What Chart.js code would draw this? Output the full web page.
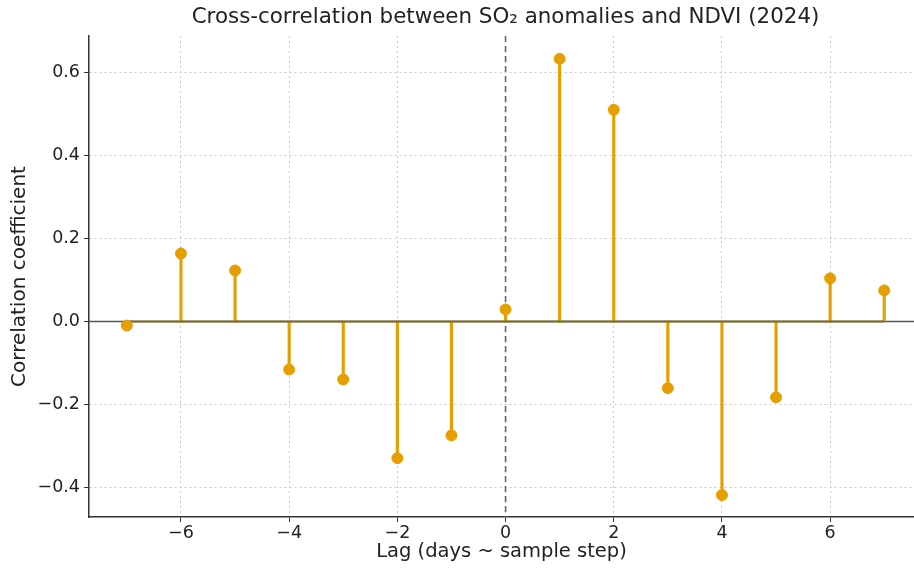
<!DOCTYPE html>
<html>
<head>
<meta charset="utf-8">
<script src="https://cdn.jsdelivr.net/npm/chart.js@4.4.1/dist/chart.umd.min.js"></script>
<style>
    html, body { margin: 0; padding: 0; background: #fff; }
    #wrap { width: 914px; height: 569px; }
</style>
</head>
<body>
<div id="wrap"><canvas id="ccf"></canvas></div>
<script>
// Lags and cross-correlation values
const lags = [-7, -6, -5, -4, -3, -2, -1, 0, 1, 2, 3, 4, 5, 6, 7];
const corr = [-0.010, 0.164, 0.123, -0.116, -0.140, -0.330, -0.275, 0.029, 0.634, 0.511, -0.161, -0.419, -0.183, 0.104, 0.075];
const xTicks = [-6, -4, -2, 0, 2, 4, 6];
const yTicks = [-0.4, -0.2, 0.0, 0.2, 0.4, 0.6];
const titleText = 'Cross-correlation between SO\u2082 anomalies and NDVI (2024)';

const stemColor = '#E69F00';
const fontFamily = '"DejaVu Sans", sans-serif';

// zero lines: horizontal solid and vertical dashed, drawn under the data
const zeroLines = {
    id: 'zeroLines',
    beforeDatasetsDraw(chart) {
        const { ctx, chartArea, scales } = chart;
        const y0 = scales.y.getPixelForValue(0);
        const x0 = scales.x.getPixelForValue(0);
        ctx.save();
        ctx.strokeStyle = '#666666';
        ctx.lineWidth = 1.6;
        ctx.setLineDash([6, 4]);
        ctx.beginPath();
        ctx.moveTo(x0, chartArea.top);
        ctx.lineTo(x0, chartArea.bottom);
        ctx.stroke();
        ctx.setLineDash([]);
        ctx.strokeStyle = '#555555';
        ctx.lineWidth = 1.5;
        ctx.beginPath();
        ctx.moveTo(chartArea.left, y0);
        ctx.lineTo(chartArea.right, y0);
        ctx.stroke();
        ctx.restore();
    }
};

// title centred over the plot area (like matplotlib's axes title)
const axesTitle = {
    id: 'axesTitle',
    afterDraw(chart) {
        const { ctx, chartArea } = chart;
        ctx.save();
        ctx.fillStyle = '#222';
        ctx.font = '21.4px ' + fontFamily;
        ctx.textAlign = 'center';
        ctx.textBaseline = 'middle';
        ctx.fillText(titleText, (chartArea.left + chartArea.right) / 2 + 4, 17);
        ctx.restore();
    }
};

const ctx = document.getElementById('ccf').getContext('2d');
new Chart(ctx, {
    data: {
        datasets: [
            {
                type: 'scatter',
                data: lags.map((l, i) => ({ x: l, y: corr[i] })),
                backgroundColor: stemColor,
                borderColor: stemColor,
                pointRadius: 5.5,
                pointHoverRadius: 5.5,
                order: 0
            },
            {
                type: 'line',
                data: [{ x: lags[0], y: 0 }, { x: lags[lags.length - 1], y: 0 }],
                borderColor: '#7a6b1f',
                borderWidth: 2,
                pointRadius: 0,
                order: 1
            },
            {
                type: 'bar',
                data: lags.map((l, i) => ({ x: l, y: [0, corr[i]] })),
                backgroundColor: stemColor,
                barThickness: 2.5,
                order: 2
            }
        ]
    },
    options: {
        responsive: true,
        maintainAspectRatio: false,
        animation: false,
        layout: { autoPadding: false, padding: { left: 0, right: 0, top: 36, bottom: 0 } },
        plugins: {
            legend: { display: false },
            tooltip: { enabled: false },
            title: { display: false }
        },
        scales: {
            x: {
                type: 'linear',
                min: -7.7,
                max: 7.55,
                offset: false,
                afterBuildTicks: (scale) => { scale.ticks = xTicks.map(v => ({ value: v })); },
                afterFit: (scale) => {
                    scale.height = 52;
                    scale.paddingRight = 0;
                    scale.paddingLeft = 0;
                },
                ticks: {
                    color: '#222',
                    font: { family: fontFamily, size: 17.5 },
                    padding: 1,
                    autoSkip: false,
                    maxRotation: 0,
                    callback: (v) => String(v).replace('-', '\u2212')
                },
                grid: {
                    offset: false,
                    color: '#c8c8c8',
                    lineWidth: 1,
                    tickColor: '#333',
                    tickLength: 5,
                    tickBorderDash: []
                },
                border: { display: true, color: '#333', width: 1.5, dash: [2, 3] },
                title: {
                    display: true,
                    text: 'Lag (days ~ sample step)',
                    color: '#222',
                    font: { family: fontFamily, size: 19.5 },
                    padding: { top: 0, bottom: 5 }
                }
            },
            y: {
                type: 'linear',
                min: -0.472,
                max: 0.689,
                afterBuildTicks: (scale) => { scale.ticks = yTicks.map(v => ({ value: v })); },
                afterFit: (scale) => { scale.width = 89; },
                ticks: {
                    color: '#222',
                    font: { family: fontFamily, size: 17.5 },
                    padding: 4,
                    callback: (v) => v.toFixed(1).replace('-', '\u2212')
                },
                grid: {
                    color: '#c8c8c8',
                    lineWidth: 1,
                    tickColor: '#333',
                    tickLength: 5,
                    tickBorderDash: []
                },
                border: { display: true, color: '#333', width: 1.5, dash: [2, 3] },
                title: {
                    display: true,
                    text: 'Correlation coefficient',
                    color: '#222',
                    font: { family: fontFamily, size: 20 },
                    padding: { top: 8, bottom: 0 }
                }
            }
        }
    },
    plugins: [zeroLines, axesTitle]
});
</script>
</body>
</html>
